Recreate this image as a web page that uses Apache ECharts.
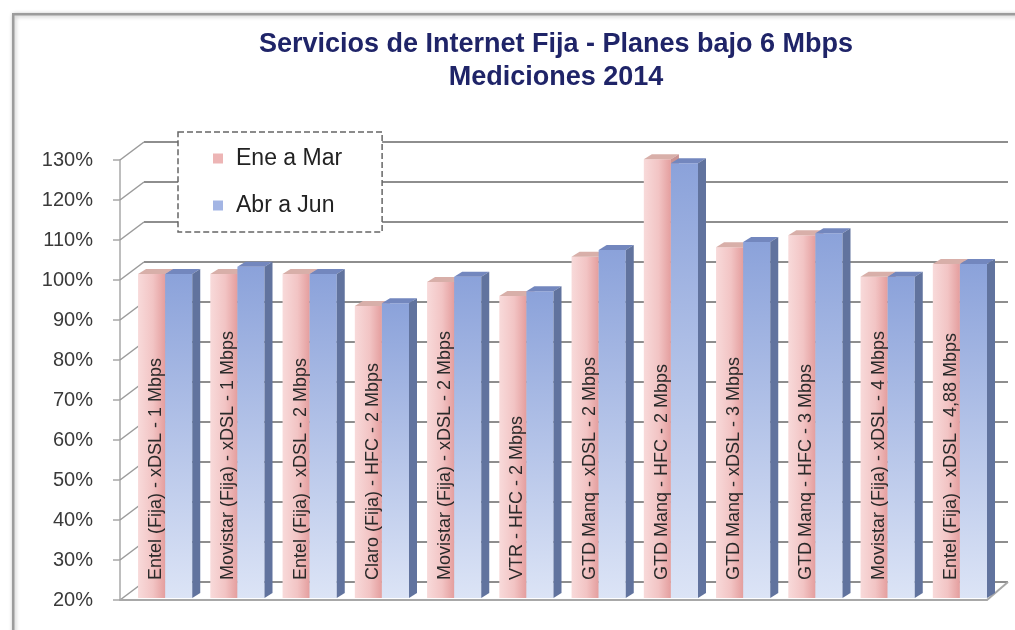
<!DOCTYPE html>
<html lang="es">
<head>
<meta charset="UTF-8">
<script src="https://cdn.jsdelivr.net/npm/echarts@6/dist/echarts.min.js"></script>
<style>
  html, body { margin: 0; padding: 0; background: #fff; }
  #main { width: 1015px; height: 630px; }
</style>
</head>
<body>
<div id="main"></div>
<script>
// datos
var categorias = [
  'Entel (Fija) - xDSL - 1 Mbps',
  'Movistar (Fija) - xDSL - 1 Mbps',
  'Entel (Fija) - xDSL - 2 Mbps',
  'Claro (Fija) - HFC - 2 Mbps',
  'Movistar (Fija) - xDSL - 2 Mbps',
  'VTR - HFC - 2 Mbps',
  'GTD Manq - xDSL - 2 Mbps',
  'GTD Manq - HFC - 2 Mbps',
  'GTD Manq - xDSL - 3 Mbps',
  'GTD Manq - HFC - 3 Mbps',
  'Movistar (Fija) - xDSL - 4 Mbps',
  'Entel (Fija) - xDSL - 4,88 Mbps'
];
var eneMar = [101.5, 101.5, 101.5, 93.5, 99.5, 96.0, 105.8, 130.2, 108.2, 111.2, 100.8, 104.0];
var abrJun = [101.5, 103.3, 101.5, 94.2, 100.8, 97.2, 107.5, 129.2, 109.5, 111.7, 100.8, 104.0];
var marcasY = [20, 30, 40, 50, 60, 70, 80, 90, 100, 110, 120, 130];

var fuente = "'Liberation Sans', Arial, sans-serif";
var profX = 24, profY = -18;   // fondo 3D
var ladoX = 8, ladoY = -5;     // grosor de cada barra

var myChart = echarts.init(document.getElementById('main'));

var G = echarts.graphic.LinearGradient;
var estilos = [
  { frente: new G(0, 0, 1, 0, [{offset: 0, color: '#F8DADA'}, {offset: 0.55, color: '#F2C4C4'}, {offset: 1, color: '#E49E9E'}]),
    techo: '#D8AFA9', lado: '#C99393' },
  { frente: new G(0, 0, 0, 1, [{offset: 0, color: '#8BA2DA'}, {offset: 1, color: '#DCE4F6'}]),
    techo: '#7387BE', lado: '#61739E' }
];

function barra3D(n) {
  return function (params, api) {
    var idx = api.value(0), val = api.value(1);
    var tope = api.coord([idx, val]);
    var base = api.coord([idx, 20]);
    var bw = api.size([1, 0])[0] * 0.375;
    var x0 = tope[0] + bw / 3 + (n === 0 ? -bw : 0);
    var x1 = x0 + bw;
    var yT = tope[1], yB = base[1] - 2;
    var e = estilos[n];
    return {
      type: 'group',
      children: [
        { type: 'rect', shape: { x: x0, y: yT, width: bw, height: yB - yT }, style: { fill: e.frente } },
        { type: 'polygon', shape: { points: [[x0, yT], [x1, yT], [x1 + ladoX, yT + ladoY], [x0 + ladoX, yT + ladoY]] }, style: { fill: e.techo } },
        { type: 'polygon', shape: { points: [[x1, yT], [x1 + ladoX, yT + ladoY], [x1 + ladoX, yB + ladoY], [x1, yB]] }, style: { fill: e.lado } }
      ]
    };
  };
}

function datos(arr) {
  return arr.map(function (v, i) { return [i, v]; });
}

var option = {
  backgroundColor: '#fff',
  animation: false,
  graphic: [{
    type: 'rect', left: 12, top: 13, z: -10,
    shape: { width: 1100, height: 700 },
    style: { fill: '#fff', stroke: '#9C9C9C', lineWidth: 2.5, shadowBlur: 4, shadowColor: 'rgba(0,0,0,0.25)', shadowOffsetX: 1, shadowOffsetY: 1 }
  }],
  title: {
    text: 'Servicios de Internet Fija - Planes bajo 6 Mbps\nMediciones 2014',
    left: 551, top: 23, textAlign: 'center',
    textStyle: { fontFamily: fuente, fontSize: 27, fontWeight: 'bold', color: '#1F2468', lineHeight: 33 }
  },
  legend: {
    orient: 'vertical', left: 178, top: 132,
    padding: [15, 40, 15, 35], itemGap: 24,
    itemWidth: 10, itemHeight: 10, icon: 'rect',
    backgroundColor: '#fff', borderColor: '#666', borderWidth: 1.5, borderType: 'dashed',
    textStyle: { fontFamily: fuente, fontSize: 23, color: '#222', padding: [0, 0, 0, 8] },
    data: [
      { name: 'Ene a Mar', itemStyle: { color: '#EDB5B5' } },
      { name: 'Abr a Jun', itemStyle: { color: '#A3B5E4' } }
    ]
  },
  grid: [
    { left: 120, right: 28, top: 160, bottom: 30 },
    { left: 120 + profX, right: 7, top: 160 + profY, bottom: 30 - profY }
  ],
  xAxis: [
    {
      type: 'category', data: categorias, gridIndex: 0, z: 10,
      axisLine: { lineStyle: { color: '#A8A8A8', width: 2 } },
      axisTick: { show: false },
      axisLabel: { inside: true, rotate: 90, margin: 20, interval: 0, fontFamily: fuente, fontSize: 18, color: '#2A2A2A' }
    },
    { type: 'value', gridIndex: 1, min: 0, max: 1, show: false }
  ],
  yAxis: [
    {
      type: 'value', gridIndex: 0, min: 20, max: 130, interval: 10,
      axisLine: { show: true, lineStyle: { color: '#A8A8A8', width: 1.5 } },
      axisTick: { show: true, length: 7, lineStyle: { color: '#A8A8A8', width: 1.5 } },
      axisLabel: { margin: 27, formatter: '{value}%', fontFamily: fuente, fontSize: 20, color: '#3A3A3A' },
      splitLine: { show: false }
    },
    {
      type: 'value', gridIndex: 1, min: 20, max: 130, interval: 10,
      axisLine: { show: false }, axisTick: { show: false }, axisLabel: { show: false },
      splitLine: { lineStyle: { color: '#8E8E8E', width: 2 } }
    }
  ],
  series: [
    {
      // diagonales de profundidad
      type: 'custom', xAxisIndex: 0, yAxisIndex: 0, silent: true, z: 1,
      data: marcasY.map(function (v) { return [0, v]; }),
      renderItem: function (params, api) {
        var cs = params.coordSys;
        var y = api.coord([0, api.value(1)])[1];
        var hijos = [{ type: 'line', shape: { x1: cs.x, y1: y, x2: cs.x + profX, y2: y + profY }, style: { stroke: '#9A9A9A', lineWidth: 1.5 } }];
        if (api.value(1) === marcasY[0]) {
          hijos.push({ type: 'line', shape: { x1: cs.x + cs.width, y1: y, x2: cs.x + cs.width + 21, y2: y + profY }, style: { stroke: '#A8A8A8', lineWidth: 2 } });
        }
        return { type: 'group', children: hijos };
      }
    },
    { name: 'Ene a Mar', type: 'custom', z: 2, data: datos(eneMar), encode: { x: 0, y: 1 }, renderItem: barra3D(0), itemStyle: { color: '#EDB5B5' } },
    { name: 'Abr a Jun', type: 'custom', z: 2, data: datos(abrJun), encode: { x: 0, y: 1 }, renderItem: barra3D(1), itemStyle: { color: '#A3B5E4' } }
  ]
};

myChart.setOption(option);
</script>
</body>
</html>
